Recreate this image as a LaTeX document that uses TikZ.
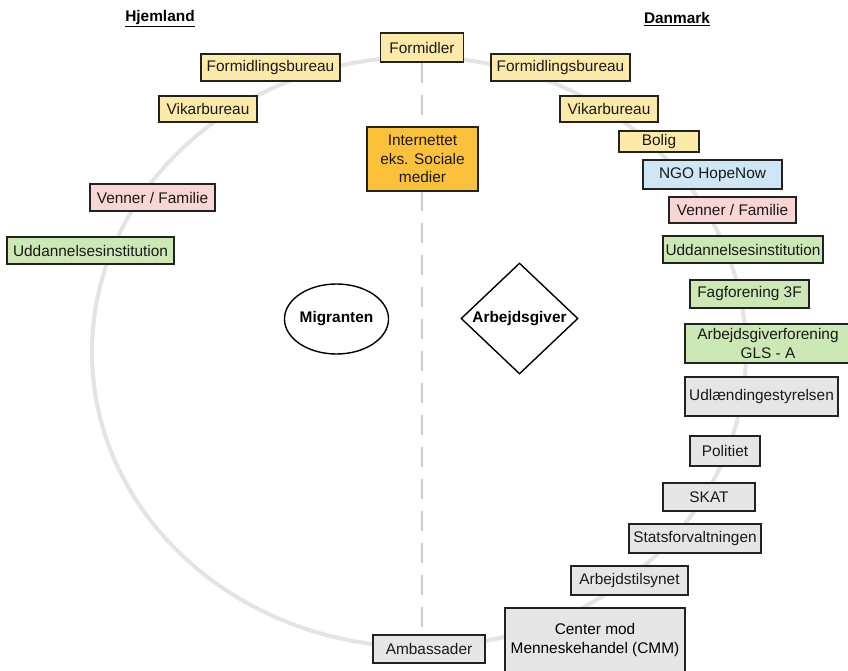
\documentclass[tikz,border=0pt]{standalone}
\usepackage{fontspec}
\setmainfont{Liberation Sans}
\usetikzlibrary{shapes.geometric}
\definecolor{cyel}{HTML}{FDEAA8}
\definecolor{corg}{HTML}{FBC13B}
\definecolor{cgrn}{HTML}{CCE8B5}
\definecolor{cgry}{HTML}{E6E6E6}
\definecolor{cpnk}{HTML}{F9D6D3}
\definecolor{cblu}{HTML}{CFE6F6}
\definecolor{cline}{HTML}{222222}
\definecolor{ring}{HTML}{E4E4E4}
\definecolor{dashc}{HTML}{CDCDCD}
\tikzset{
  box/.style={draw=cline, line width=1.4pt, rectangle, inner sep=0pt, align=center,
    font=\fontsize{15.4}{18.5}\selectfont, text=black!90},
  yel/.style={box, fill=cyel},
  grn/.style={box, fill=cgrn},
  gry/.style={box, fill=cgry},
  pnk/.style={box, fill=cpnk},
  blu/.style={box, fill=cblu},
  hdr/.style={font=\fontsize{15.4}{18}\selectfont\bfseries, inner sep=0pt},
}
\begin{document}
\begin{tikzpicture}[x=1pt,y=-1pt]
\useasboundingbox (0,0) rectangle (848,671);
\fill[white] (0,0) rectangle (848,671);
\begin{scope}
\clip (0,0) rectangle (848,671);
\draw[ring, line width=4pt] (419,352) ellipse [x radius=327pt, y radius=295pt];

\node[hdr] (hjem) at (160,19) {\underline{Hjemland}};
\node[hdr] (dan) at (677,19) {\underline{Danmark}};

\node[yel, minimum width=83pt, minimum height=29pt] (form) at (422,47.5) {Formidler};
\node[gry, minimum width=112pt, minimum height=28pt] (amb) at (429,649) {Ambassader};
\draw[dashc, line width=2.5pt, dash pattern=on 20pt off 12pt] (form.south) -- (form.south |- amb.north);
\node[gry, minimum width=112pt, minimum height=28pt] at (429,649) {Ambassader};

% left side
\node[yel, minimum width=139pt, minimum height=27pt] (lfb) at (270.5,67.5) {Formidlingsbureau};
\node[yel, minimum width=98pt, minimum height=26pt] (lvb) at (208,109) {Vikarbureau};
\node[pnk, minimum width=125pt, minimum height=27pt] (lvf) at (152.5,197.5) {Venner / Familie};
\node[grn, minimum width=167pt, minimum height=27pt] (lud) at (90.5,250.5) {Uddannelsesinstitution};

% center
\node[box, fill=corg, minimum width=111pt, minimum height=64pt] (inet) at (422.5,159) {Internettet\\eks. Sociale\\medier};
\node[draw=black, line width=1.4pt, ellipse, minimum width=91pt, minimum height=70pt, inner sep=0pt,
  font=\fontsize{15.4}{18}\selectfont\bfseries] (mig) at (336.5,319) {Migranten};
\node[draw=black, line width=1.4pt, diamond, minimum width=117pt, minimum height=111pt, inner sep=0pt] (arb) at (519.5,318.5) {};
\node at (arb.center) {\fontsize{15.4}{18}\selectfont\bfseries Arbejdsgiver};

% right side
\node[yel, minimum width=139pt, minimum height=27pt] (rfb) at (560.5,67.5) {Formidlingsbureau};
\node[yel, minimum width=98pt, minimum height=26pt] (rvb) at (609,109) {Vikarbureau};
\node[yel, minimum width=80pt, minimum height=21pt] (bol) at (659,141.5) {Bolig};
\node[blu, minimum width=139pt, minimum height=29pt] (ngo) at (712.5,174.5) {NGO HopeNow};
\node[pnk, minimum width=127pt, minimum height=26pt] (rvf) at (732.5,210) {Venner / Familie};
\node[grn, minimum width=160pt, minimum height=27pt] (rud) at (743,249.5) {Uddannelsesinstitution};
\node[grn, minimum width=119pt, minimum height=28pt] (fag) at (749.5,294) {Fagforening 3F};
\node[grn, minimum width=166pt, minimum height=39pt] (gls) at (768,343.5) {Arbejdsgiverforening\\GLS - A};
\node[gry, minimum width=153pt, minimum height=39pt] (udl) at (761.5,396.5) {Udlændingestyrelsen};
\node[gry, minimum width=70pt, minimum height=30pt] (pol) at (725,451) {Politiet};
\node[gry, minimum width=92pt, minimum height=28pt] (skat) at (709,497) {SKAT};
\node[gry, minimum width=132pt, minimum height=29pt] (stat) at (695,538.5) {Statsforvaltningen};
\node[gry, minimum width=117pt, minimum height=29pt] (atil) at (629.5,580.5) {Arbejdstilsynet};
\node[gry, minimum width=180pt, minimum height=66pt] (cmm) at (595,641) {};
\node at (595,640) {\fontsize{15.4}{18.5}\selectfont\begin{tabular}{@{}c@{}}Center mod\\[0.5pt]Menneskehandel (CMM)\end{tabular}};
\end{scope}
\end{tikzpicture}
\end{document}
